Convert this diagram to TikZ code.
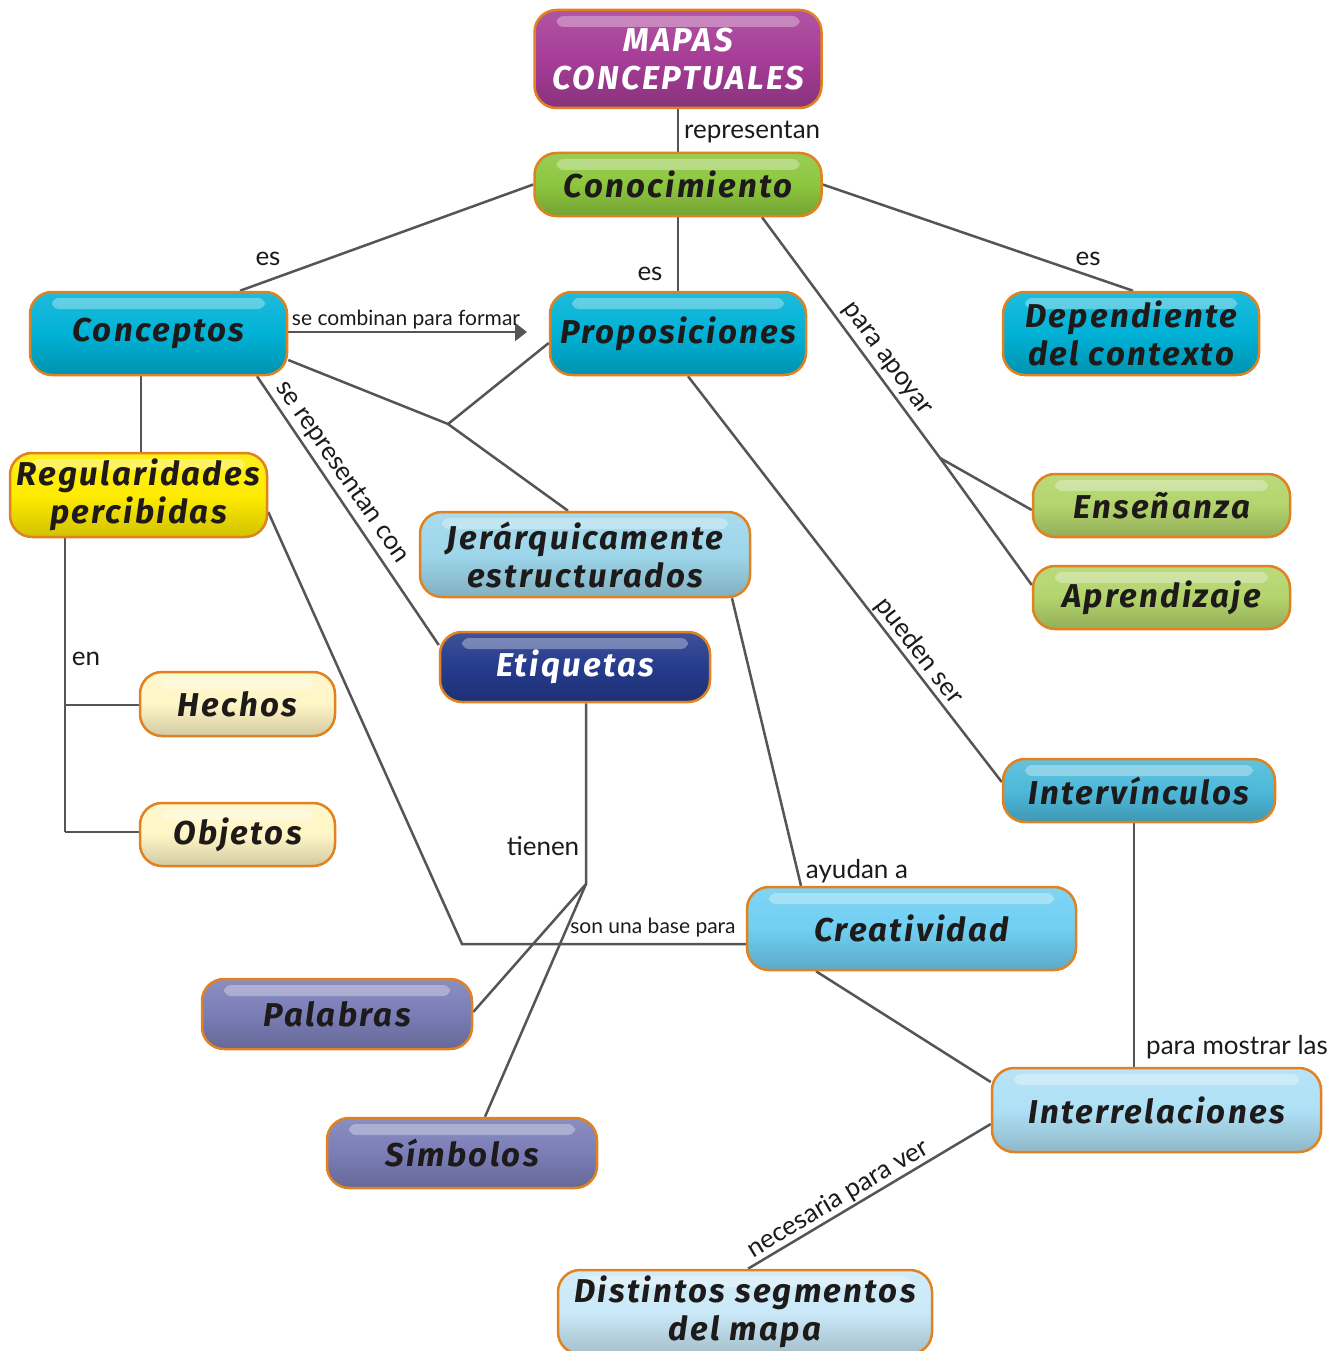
\documentclass[tikz,border=0pt]{standalone}
\usepackage{fontspec}
\setmainfont{Lato}
\newfontfamily\nodefont{Fira Sans}[LetterSpace=7]
\usetikzlibrary{arrows.meta,backgrounds}
\definecolor{bord}{HTML}{E0821F}
\definecolor{lin}{HTML}{555555}
\definecolor{txt}{HTML}{1E1A1A}
\definecolor{cmag}{HTML}{A63D97}
\definecolor{cgrn}{HTML}{8DC63F}
\definecolor{ccya}{HTML}{00B2D6}
\definecolor{cyel}{HTML}{FFEC00}
\definecolor{cjer}{HTML}{9DD6EA}
\definecolor{clgr}{HTML}{B3D46C}
\definecolor{cdbl}{HTML}{253B8C}
\definecolor{ccre}{HTML}{FFF6C6}
\definecolor{civ}{HTML}{4DB9DA}
\definecolor{ccrt}{HTML}{70CFF2}
\definecolor{cpur}{HTML}{7B7EB7}
\definecolor{cirr}{HTML}{AEE0F5}
\definecolor{cdis}{HTML}{CAE9F8}
\tikzset{
  box/.style={rounded corners=22pt, draw=bord, line width=2.5pt, inner sep=0pt,
    align=center, text=txt,
    font=\nodefont\bfseries\itshape\fontsize{33}{38}\selectfont,
    top color=#1!88!white, bottom color=#1!82!black, middle color=#1,
    path picture={\fill[white,opacity=0.32,rounded corners=7pt]
      ([xshift=22pt,yshift=-6pt]path picture bounding box.north west) rectangle
      ([xshift=-22pt,yshift=-17pt]path picture bounding box.north east);}},
  conn/.style={draw=lin, line width=2.5pt},
  lbl/.style={inner sep=0pt, text=txt, font=\fontsize{26}{30}\selectfont},
  slbl/.style={inner sep=0pt, text=txt, font=\fontsize{21}{25}\selectfont},
}
\begin{document}
\begin{tikzpicture}[x=1pt,y=-1pt]
\useasboundingbox (0,0) rectangle (1333,1351);
% nodes
\node[box=cmag, minimum width=287pt, minimum height=98pt, text=white] (mapas) at (678,59) {MAPAS\\CONCEPTUALES};
\node[box=cgrn, minimum width=287pt, minimum height=63pt] (conoc) at (678,184.5) {Conocimiento};
\node[box=ccya, minimum width=257pt, minimum height=83pt] (concep) at (158.5,333.5) {Conceptos};
\node[box=ccya, minimum width=256pt, minimum height=83pt] (propos) at (678,333.5) {Proposiciones};
\node[box=ccya, minimum width=256pt, minimum height=83pt] (depend) at (1131,333.5) {Dependiente\\del contexto};
\node[box=cyel, minimum width=257pt, minimum height=84pt] (regul) at (138.5,495) {Regularidades\\percibidas};
\node[box=cjer, minimum width=330pt, minimum height=85pt] (jer) at (585,554.5) {Jerárquicamente\\estructurados};
\node[box=clgr, minimum width=257pt, minimum height=63pt] (ensen) at (1161.5,505.5) {Enseñanza};
\node[box=clgr, minimum width=257pt, minimum height=63pt] (aprend) at (1161.5,597.5) {Aprendizaje};
\node[box=cdbl, minimum width=270pt, minimum height=70pt, text=white] (etiq) at (575,667) {Etiquetas};
\node[box=ccre, minimum width=195pt, minimum height=64pt] (hechos) at (237.5,704) {Hechos};
\node[box=ccre, minimum width=195pt, minimum height=63pt] (objetos) at (237.5,834.5) {Objetos};
\node[box=civ, minimum width=272pt, minimum height=63pt] (interv) at (1139,790.5) {Intervínculos};
\node[box=ccrt, minimum width=329pt, minimum height=83pt] (creat) at (911.5,928.5) {Creatividad};
\node[box=cpur, minimum width=270pt, minimum height=70pt] (palab) at (337,1014) {Palabras};
\node[box=cpur, minimum width=270pt, minimum height=70pt] (simb) at (462,1153) {Símbolos};
\node[box=cirr, minimum width=329pt, minimum height=84pt] (interr) at (1156.5,1110) {Interrelaciones};
\node[box=cdis, minimum width=374pt, minimum height=84pt] (dist) at (745,1312) {Distintos segmentos\\del mapa};
% junctions
\coordinate (ja) at (940,458);
\coordinate (j2) at (448,424);
\coordinate (jh) at (65,705);
\coordinate (jr) at (65,832);
\coordinate (jc) at (462,944);
\coordinate (je) at (586,884);
\coordinate (arrend) at (527,332);
% connectors
\begin{scope}[on background layer]
\draw[conn] (mapas.south) -- (conoc.north);
\draw[conn] (conoc.west) -- (concep.north -| 240,0);
\draw[conn] (conoc.south) -- (propos.north);
\draw[conn] (conoc.east) -- (depend.north -| 1133,0);
\draw[conn] (conoc.south -| 762,0) -- (ja) -- (aprend.west |- 0,585);
\draw[conn] (ja) -- (ensen.west |- 0,510);
\draw[conn, -{Triangle[width=18pt,length=12pt]}] (concep.east |- 0,332) -- (arrend);
\draw[conn] (concep.east |- 0,360) -- (j2) -- (propos.west |- 0,343);
\draw[conn] (j2) -- (jer.north -| 568,0);
\draw[conn] (concep.south -| 257,0) -- (etiq.west |- 0,645);
\draw[conn] (concep.south -| 141,0) -- (regul.north -| 141,0);
\draw[conn] (regul.south -| 65,0) -- (jh) -- (jr);
\draw[conn] (jh) -- (hechos.west |- 0,705);
\draw[conn] (jr) -- (objetos.west |- 0,832);
\draw[conn] (regul.east |- 0,512) -- (jc) -- (creat.west |- 0,944);
\draw[conn] (jer.south -| 732,0) -- (creat.north -| 801,0);
\draw[conn] (etiq.south -| 586,0) -- (je) -- (palab.east |- 0,1012);
\draw[conn] (je) -- (simb.north -| 485,0);
\draw[conn] (propos.south -| 688,0) -- (interv.west |- 0,782);
\draw[conn] (interv.south -| 1134,0) -- (interr.north -| 1134,0);
\draw[conn] (creat.south -| 816,0) -- (interr.west |- 0,1082);
\draw[conn] (interr.west |- 0,1124) -- (dist.north -| 748,0);
\end{scope}
% labels
\node[lbl, anchor=west] (l1) at (684,132) {representan};
\node[lbl] (l2) at (268,259) {es};
\node[lbl] (l3) at (650,274) {es};
\node[lbl] (l4) at (1088,259) {es};
\node[slbl] (l5) at (406,320) {se combinan para formar};
\node[lbl, rotate=-53.7] (l6) at (886,360) {para apoyar};
\node[lbl, rotate=-55.3] (l7) at (342,472) {se representan con};
\node[lbl] (l8) at (86,659) {en};
\node[lbl] (l9) at (543,846) {tienen};
\node[slbl] (l10) at (653,928) {son una base para};
\node[lbl] (l11) at (857,871) {ayudan a};
\node[lbl, rotate=-52.3] (l12) at (919,651) {pueden ser};
\node[lbl] (l13) at (1237,1047) {para mostrar las};
\node[lbl, rotate=30.9] (l14) at (838,1199) {necesaria para ver};
\end{tikzpicture}
\end{document}
